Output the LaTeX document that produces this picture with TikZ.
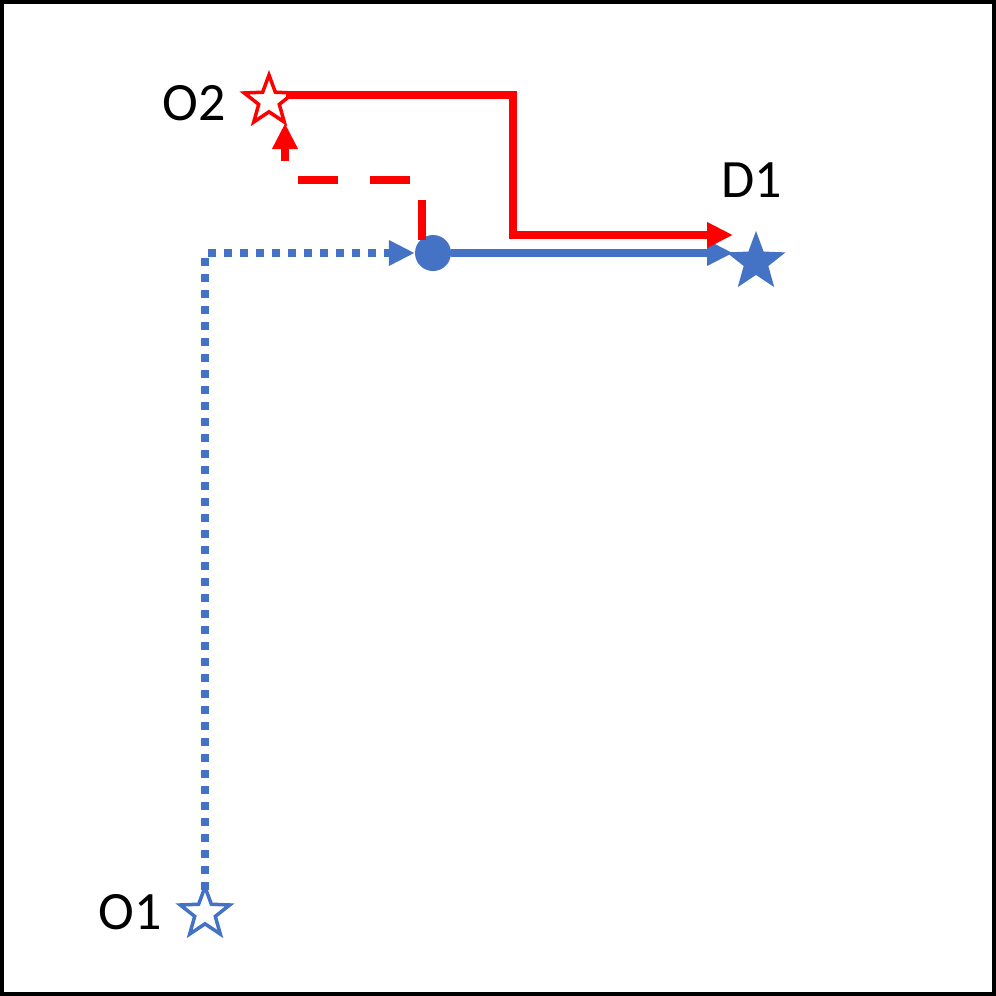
\documentclass[tikz,border=0pt]{standalone}
\usepackage{fontspec}
\setmainfont{Carlito}
\usetikzlibrary{shapes.geometric,arrows.meta}
\definecolor{bl}{RGB}{68,114,196}
\definecolor{rd}{RGB}{255,0,0}
\begin{document}
\begin{tikzpicture}[x=1pt,y=-1pt,
  strs/.style={star,star points=5,star point ratio=2.4,minimum size=52pt,inner sep=0pt,line width=3.5pt},
  lbl/.style={font=\fontsize{54pt}{54pt}\selectfont},
  tip/.style={-{Triangle[length=26pt,width=24pt]}}]
\useasboundingbox (0,0) rectangle (996,996);
\draw[line width=4pt] (2,2) rectangle (994,994);
\node[strs,draw=bl,fill=white] (o1) at (205,913) {};
\node[lbl] (o1l) at (130,912) {O1};
\node[strs,draw=rd,fill=white] (o2) at (269,101) {};
\node[lbl] (o2l) at (194,103) {O2};
\node[strs,draw=bl,fill=bl] (d1) at (756,262) {};
\node[lbl] (d1l) at (752,180) {D1};
\node[circle,fill=bl,minimum size=36pt,inner sep=0pt] (m) at (433,253) {};
\coordinate (c1) at (205,253);
\draw[bl,line width=8pt,dash pattern=on 8pt off 8pt,tip] (205,890) -- (c1) -- (m.west);
\draw[bl,line width=7.5pt,tip] (m.east) -- (733,253);
\draw[rd,line width=8pt,tip] (o2.east |- 0,95) -- (513,95) -- (513,235) -- (733,235);
\draw[rd,line width=8pt,dash pattern=on 40pt off 32pt,tip] (422,240) -- (422,180) -- (285,180) -- (285,123);
\end{tikzpicture}
\end{document}
